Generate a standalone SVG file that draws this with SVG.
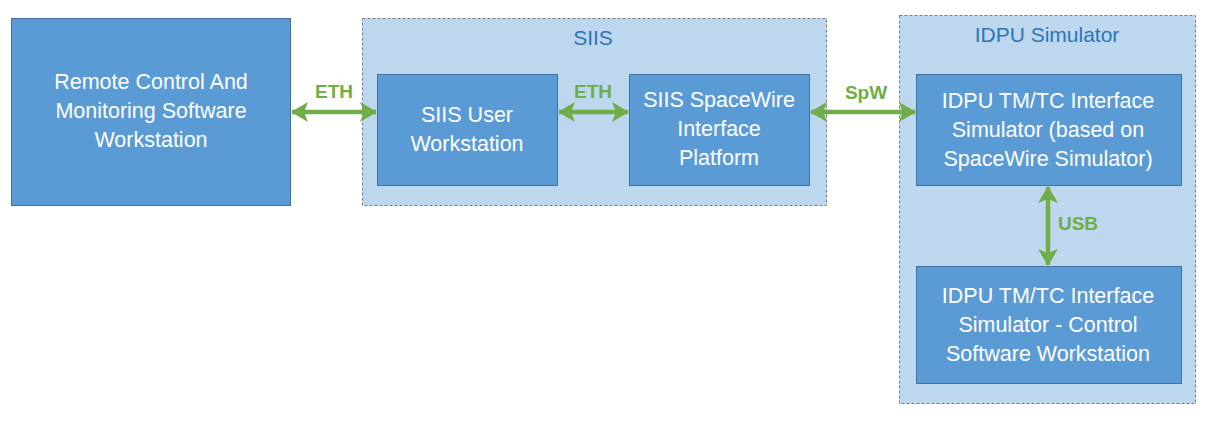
<svg xmlns="http://www.w3.org/2000/svg" width="1213" height="437" viewBox="0 0 1213 437">
<style>
.box{fill:#5B9BD5;stroke:#41719C;stroke-width:1}
.grp{fill:#BDD7EE;stroke:#6F7F8F;stroke-width:1;stroke-dasharray:3 2}
.t{font-family:"Liberation Sans",Arial,sans-serif;font-size:21.5px;fill:#FFFFFF;text-anchor:middle}
.gt{font-family:"Liberation Sans",Arial,sans-serif;font-size:21px;fill:#2E75B6;text-anchor:middle}
.lab{font-family:"Liberation Sans",Arial,sans-serif;font-size:19px;font-weight:bold;fill:#70AD47;text-anchor:middle}
.ln{stroke:#70AD47;stroke-width:4.5;fill:none}
</style>
<defs>
<marker id="ah" markerUnits="userSpaceOnUse" markerWidth="17" markerHeight="20" refX="16" refY="10" orient="auto-start-reverse">
<path d="M0,0 L17,10 L0,20 L4,10 Z" fill="#70AD47"/>
</marker>
</defs>
<rect width="1213" height="437" fill="#FFFFFF"/>
<g id="siis-group">
<rect class="grp" x="362.5" y="18.5" width="464" height="187"/>
<text class="gt" x="593" y="45">SIIS</text>
</g>
<g id="idpu-group">
<rect class="grp" x="899.5" y="15.5" width="296" height="388"/>
<text class="gt" x="1047" y="42">IDPU Simulator</text>
</g>
<g id="remote">
<rect class="box" x="11.5" y="18.5" width="279" height="187"/>
<text class="t" x="151" y="89">Remote Control And</text>
<text class="t" x="151" y="118">Monitoring Software</text>
<text class="t" x="151" y="147">Workstation</text>
</g>
<g id="siis-user">
<rect class="box" x="377.5" y="74.5" width="180" height="111"/>
<text class="t" x="467" y="122">SIIS User</text>
<text class="t" x="467" y="151">Workstation</text>
</g>
<g id="siis-spw">
<rect class="box" x="629.5" y="74.5" width="180" height="111"/>
<text class="t" x="719" y="107">SIIS SpaceWire</text>
<text class="t" x="719" y="136">Interface</text>
<text class="t" x="719" y="165">Platform</text>
</g>
<g id="idpu-tmtc">
<rect class="box" x="916.5" y="74.5" width="265" height="111"/>
<text class="t" x="1048" y="108">IDPU TM/TC Interface</text>
<text class="t" x="1048" y="137">Simulator (based on</text>
<text class="t" x="1048" y="166">SpaceWire Simulator)</text>
</g>
<g id="idpu-ctrl">
<rect class="box" x="916.5" y="266.5" width="265" height="117"/>
<text class="t" x="1048" y="303">IDPU TM/TC Interface</text>
<text class="t" x="1048" y="332">Simulator - Control</text>
<text class="t" x="1048" y="361">Software Workstation</text>
</g>
<g id="connectors">
<line class="ln" x1="292" y1="112" x2="376" y2="112" marker-start="url(#ah)" marker-end="url(#ah)"/>
<text class="lab" x="334" y="98">ETH</text>
<line class="ln" x1="559" y1="112" x2="628" y2="112" marker-start="url(#ah)" marker-end="url(#ah)"/>
<text class="lab" x="593" y="98">ETH</text>
<line class="ln" x1="811" y1="112" x2="915" y2="112" marker-start="url(#ah)" marker-end="url(#ah)"/>
<text class="lab" x="866" y="99">SpW</text>
<line class="ln" x1="1048" y1="187" x2="1048" y2="265" marker-start="url(#ah)" marker-end="url(#ah)"/>
<text class="lab" x="1078" y="230">USB</text>
</g>
</svg>
